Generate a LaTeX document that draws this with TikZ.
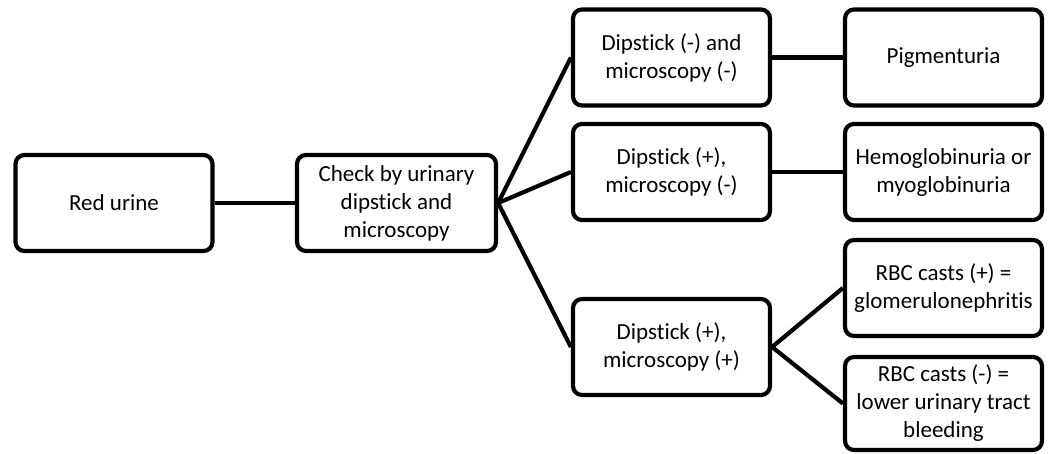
\documentclass[tikz,border=0pt]{standalone}
\usepackage{fontspec}
\setmainfont{Carlito}[Ligatures=NoCommon]
\begin{document}
\begin{tikzpicture}[x=1pt,y=-1pt,
  box/.style={draw=black, line width=4.2pt, rounded corners=9pt, fill=white,
    align=center, font=\fontsize{23}{28}\selectfont, text=black,
    minimum width=197pt, minimum height=96pt, inner sep=2pt},
  link/.style={draw=black, line width=4.2pt}]
\useasboundingbox (0,0) rectangle (1061,454);
% first two stages
\node[box] (red)   at (114,203)   {Red urine};
\node[box, minimum width=199pt] (check) at (396.5,203) {Check by urinary\\dipstick and\\microscopy};
% dipstick / microscopy outcomes
\node[box] (d1) at (671.5,57.5) {Dipstick (-) and\\microscopy (-)};
\node[box] (d2) at (671.5,172)  {Dipstick (+),\\microscopy (-)};
\node[box] (d3) at (671.5,347)  {Dipstick (+),\\microscopy (+)};
% interpretations
\node[box] (pig)  at (943.5,57.5) {Pigmenturia};
\node[box] (hemo) at (943.5,172)  {Hemoglobinuria or\\myoglobinuria};
\node[box] (rbcp) at (943.5,288)  {RBC casts (+) =\\glomerulonephritis};
\node[box, minimum height=93pt] (rbcm) at (943.5,403.5) {RBC casts (-) =\\lower urinary tract\\bleeding};
% connectors
\draw[link] (red.east) -- (check.west);
\draw[link] (check.east) -- (d1.west);
\draw[link] (check.east) -- (d2.west);
\draw[link] (check.east) -- (d3.west);
\draw[link] (d1.east) -- (pig.west);
\draw[link] (d2.east) -- (hemo.west);
\draw[link] (d3.east) -- (rbcp.west);
\draw[link] (d3.east) -- (rbcm.west);
\end{tikzpicture}
\end{document}
